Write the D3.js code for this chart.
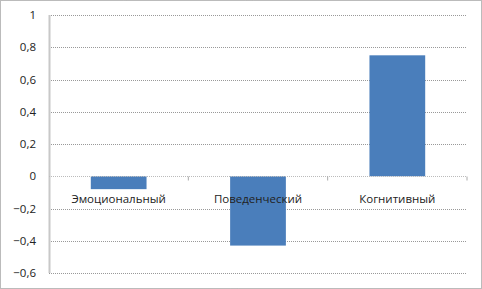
<!DOCTYPE html>
<html>
<head>
<meta charset="utf-8">
<script src="https://cdn.jsdelivr.net/npm/d3@7"></script>
<style>
  body { margin: 0; background: #fff; }
  svg text { font-family: "Open Sans", "Liberation Sans", sans-serif; fill: #222; }
</style>
</head>
<body>
<div id="chart"></div>
<script>
// Bar chart: three components

var categories = ["Эмоциональный", "Поведенческий", "Когнитивный"];
var values = [-0.08, -0.43, 0.75];
var tickValues = [1, 0.8, 0.6, 0.4, 0.2, 0, -0.2, -0.4, -0.6];

var svgWidth = 482;
var svgHeight = 289;

var margin = { top: 15, right: 15, bottom: 15, left: 49 };

var width = svgWidth - margin.left - margin.right;
var height = svgHeight - margin.top - margin.bottom;

var svg = d3.select("#chart")
  .append("svg")
  .attr("width", svgWidth)
  .attr("height", svgHeight);

// outer dotted frame
svg.append("rect")
  .attr("x", 0.5)
  .attr("y", 0.5)
  .attr("width", svgWidth - 1)
  .attr("height", svgHeight - 1)
  .attr("fill", "#fff")
  .attr("stroke", "#777")
  .attr("stroke-dasharray", "1,1");

var chartGroup = svg.append("g")
  .attr("transform", `translate(${margin.left}, ${margin.top})`);

var x = d3.scaleBand()
  .domain(categories)
  .range([0, 418])
  .paddingInner(0.6)
  .paddingOuter(0.3);

var y = d3.scaleLinear()
  .domain([-0.6, 1])
  .range([258, 0]);

var fmt = function(d) { return d3.format("")(+d.toFixed(1)).replace(".", ","); };

// gridlines
chartGroup.append("g")
  .selectAll("line")
  .data(tickValues)
  .enter()
  .append("line")
  .attr("x1", 0)
  .attr("x2", 418)
  .attr("y1", d => Math.round(y(d)) + 0.5)
  .attr("y2", d => Math.round(y(d)) + 0.5)
  .attr("stroke", "#999")
  .attr("stroke-dasharray", "1,1");

// y axis
var leftAxis = d3.axisLeft(y)
  .tickValues(tickValues)
  .tickSize(0)
  .tickPadding(13)
  .tickFormat(fmt);

var yAxis = chartGroup.append("g").call(leftAxis);
yAxis.select(".domain").remove();
yAxis.selectAll("text").attr("font-size", 11.5).attr("fill", "#222");

chartGroup.append("line")
  .attr("x1", 0.5)
  .attr("x2", 0.5)
  .attr("y1", 0)
  .attr("y2", 258)
  .attr("stroke", "#c8c8c8")
  .attr("stroke-width", 2);

// bars
chartGroup.selectAll("rect.bar")
  .data(values)
  .enter()
  .append("rect")
  .attr("class", "bar")
  .attr("x", (d, i) => x(categories[i]))
  .attr("width", x.bandwidth())
  .attr("y", d => y(Math.max(0, d)))
  .attr("height", d => Math.abs(y(d) - y(0)))
  .attr("fill", "#4a7ebb");

// category axis along zero
var zeroY = Math.round(y(0)) + 0.5;
chartGroup.append("line")
  .attr("x1", 0)
  .attr("x2", 418)
  .attr("y1", zeroY)
  .attr("y2", zeroY)
  .attr("stroke", "#bbb")
  .attr("stroke-dasharray", "1,1");

var step = 418 / categories.length;
chartGroup.selectAll("line.cattick")
  .data(d3.range(1, categories.length + 1))
  .enter()
  .append("line")
  .attr("class", "cattick")
  .attr("x1", d => d * step)
  .attr("x2", d => d * step)
  .attr("y1", zeroY)
  .attr("y2", zeroY + 4)
  .attr("stroke", "#aaa");

chartGroup.selectAll("text.cat")
  .data(categories)
  .enter()
  .append("text")
  .attr("class", "cat")
  .attr("x", d => x(d) + x.bandwidth() / 2)
  .attr("y", zeroY + 26)
  .attr("text-anchor", "middle")
  .attr("font-size", 11.5)
  .text(d => d);
</script>
</body>
</html>
